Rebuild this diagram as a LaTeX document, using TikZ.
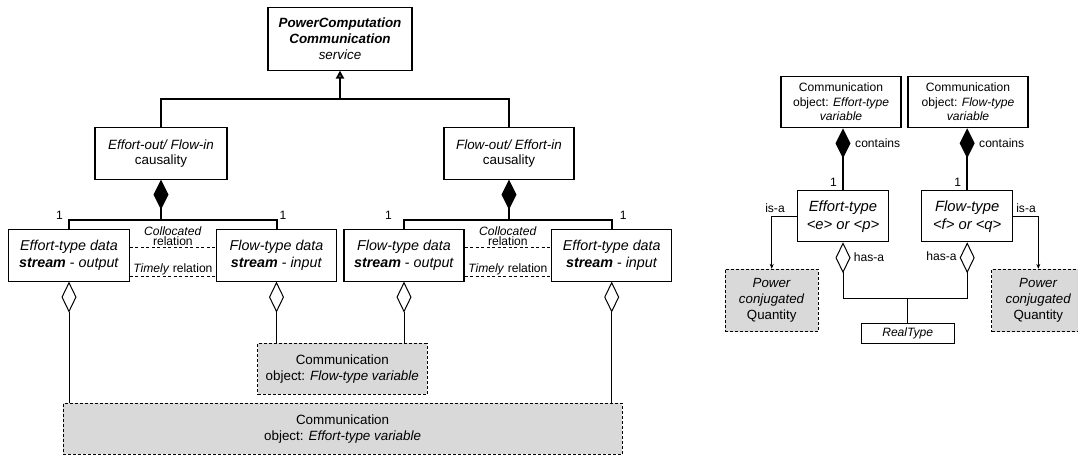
\documentclass[tikz,border=0pt]{standalone}
\usepackage{fontspec}
\setmainfont{Liberation Sans}
\usetikzlibrary{arrows.meta}

\definecolor{objgray}{HTML}{D9D9D9}
\newcommand{\fmain}{\fontsize{13.4}{15.6}\selectfont}
\newcommand{\fbig}{\fontsize{14.3}{17}\selectfont}
\newcommand{\fsm}{\fontsize{12.1}{14.5}\selectfont}
\newcommand{\frel}{\fontsize{12.1}{10.2}\selectfont}
\newcommand{\ftype}{\fontsize{14.8}{18}\selectfont}
\newcommand{\fpow}{\fontsize{13.3}{16}\selectfont}

\begin{document}
\begin{tikzpicture}[x=1pt,y=-1pt,
  box/.style={draw,line width=1.1pt,fill=white,align=center,inner sep=0pt,font=\fmain},
  objbox/.style={box,fill=objgray,line width=0.9pt,dash pattern=on 3pt off 2pt},
  tree/.style={line width=2pt},
  comp/.style={tree,{Diamond[length=30pt,width=15pt]}-},
  aggr/.style={line width=0.8pt,{Diamond[open,length=31pt,width=15pt,line width=1pt]}-},
  gen/.style={tree,-{Triangle[open,length=8pt,width=8pt]}},
  isa/.style={line width=0.8pt,-{Stealth[length=5pt,width=4pt]}},
  rel/.style={line width=0.8pt,dash pattern=on 3pt off 2.5pt},
  lbl/.style={inner sep=0pt,font=\fsm}]
\useasboundingbox (0,0) rectangle (1078,458);

% Left diagram: service and causalities
\node[box,minimum width=144pt,minimum height=62.7pt] (serv) at (340,38.7)
  {\textbf{\textit{PowerComputation}}\\\textbf{\textit{Communication}}\\\textit{service}};
\node[box,minimum width=132pt,minimum height=51.3pt] (causL) at (161,153.4)
  {\textit{Effort-out/ Flow-in}\\causality};
\node[box,minimum width=130pt,minimum height=51.3pt] (causR) at (509,153.4)
  {\textit{Flow-out/ Effort-in}\\causality};

% Data streams
\node[box,font=\fbig,minimum width=120.5pt,minimum height=51.7pt] (sEo) at (69,255.2)
  {\textit{Effort-type data}\\\textbf{\textit{stream}} - \textit{output}};
\node[box,font=\fbig,minimum width=120pt,minimum height=51.7pt] (sFi) at (276.5,255.2)
  {\textit{Flow-type data}\\\textbf{\textit{stream}} - \textit{input}};
\node[box,font=\fbig,minimum width=120pt,minimum height=51.7pt] (sFo) at (404,255.2)
  {\textit{Flow-type data}\\\textbf{\textit{stream}} - \textit{output}};
\node[box,font=\fbig,minimum width=120pt,minimum height=51.7pt] (sEi) at (611.7,255.2)
  {\textit{Effort-type data}\\\textbf{\textit{stream}} - \textit{input}};

% Communication objects
\node[objbox,minimum width=169.4pt,minimum height=50.7pt] (objF) at (342.3,368.8)
  {Communication\\object: \textit{Flow-type variable}};
\node[objbox,minimum width=559.3pt,minimum height=51pt] (objE) at (342.6,428.8)
  {Communication\\object: \textit{Effort-type variable}};

% Inheritance tree
\coordinate (jTop) at (340,99.3);
\coordinate (jL) at (161,220);
\coordinate (jR) at (509,220);
\draw[tree] (causL.north) |- (jTop) -| (causR.north);
\draw[gen] (jTop) -- (serv.south);

% Compositions
\draw[comp] (causL.south) -- (jL);
\draw[tree] (sEo.north) |- (jL) -| (sFi.north);
\draw[comp] (causR.south) -- (jR);
\draw[tree] (sFo.north) |- (jR) -| (sEi.north);
\node[lbl,anchor=south east,xshift=-6pt] (m1) at (sEo.north |- jL) {1};
\node[lbl,anchor=south west,xshift=3pt] (m2) at (sFi.north |- jL) {1};
\node[lbl,anchor=south east,xshift=-12pt] (m3) at (sFo.north |- jR) {1};
\node[lbl,anchor=south west,xshift=8pt] (m4) at (sEi.north |- jR) {1};

% Relations
\draw[rel] ([yshift=7.9pt]sEo.east) -- node[lbl,font=\frel,align=center,above=1.5pt,name=colL]
  {\textit{Collocated}\\relation} ([yshift=7.9pt]sFi.west);
\draw[rel] ([yshift=-20.8pt]sEo.east) -- node[lbl,above=1pt,name=timL]
  {\textit{Timely} relation} ([yshift=-20.8pt]sFi.west);
\draw[rel] ([yshift=7.9pt]sFo.east) -- node[lbl,font=\frel,align=center,above=1.5pt,name=colR]
  {\textit{Collocated}\\relation} ([yshift=7.9pt]sEi.west);
\draw[rel] ([yshift=-20.8pt]sFo.east) -- node[lbl,above=1pt,name=timR]
  {\textit{Timely} relation} ([yshift=-20.8pt]sEi.west);

% Aggregations
\draw[aggr] (sEo.south) -- (sEo.south |- objE.north);
\draw[aggr] (sFi.south) -- (sFi.south |- objF.north);
\draw[aggr] (sFo.south) -- (sFo.south |- objF.north);
\draw[aggr] (sEi.south) -- (sEi.south |- objE.north);

% Right diagram
\node[box,font=\fsm,minimum width=120pt,minimum height=51.7pt] (objEr) at (841,101.9)
  {Communication\\object: \textit{Effort-type}\\\textit{variable}};
\node[box,font=\fsm,minimum width=120pt,minimum height=51.7pt] (objFr) at (968,101.9)
  {Communication\\object: \textit{Flow-type}\\\textit{variable}};
\node[box,font=\ftype,minimum width=91pt,minimum height=51pt] (typE) at (843,216.2)
  {\textit{Effort-type}\\\textit{<e> or <p>}};
\node[box,font=\ftype,minimum width=91pt,minimum height=51pt] (typF) at (967.2,216.2)
  {\textit{Flow-type}\\\textit{<f> or <q>}};
\node[objbox,font=\fpow,minimum width=93.3pt,minimum height=62.4pt] (powL) at (771.7,300.5)
  {\textit{Power}\\\textit{conjugated}\\Quantity};
\node[objbox,font=\fpow,minimum width=93.3pt,minimum height=62.4pt] (powR) at (1038.3,300.5)
  {\textit{Power}\\\textit{conjugated}\\Quantity};
\node[box,font=\fsm,minimum width=93.3pt,minimum height=20pt] (real) at (907.7,333.3)
  {\textit{RealType}};
\coordinate (jHas) at (907.7,298.3);

\draw[comp] (typE.north |- objEr.south) -- (typE.north);
\draw[comp] (typF.north |- objFr.south) -- (typF.north);
\node[lbl,anchor=west] (conE) at (855,142.7) {contains};
\node[lbl,anchor=west] (conF) at (979,142.7) {contains};
\node[lbl,anchor=south east,xshift=-6pt,yshift=3pt] (mE) at (typE.north) {1};
\node[lbl,anchor=south east,xshift=-6pt,yshift=3pt] (mF) at (typF.north) {1};

\draw[isa] (typE.west) -| (powL.north);
\draw[isa] (typF.east) -| (powR.north);
\node[lbl] (isaE) at (775,208) {is-a};
\node[lbl] (isaF) at (1026,208) {is-a};

\draw[aggr] (typE.south) |- (jHas);
\draw[aggr] (typF.south) |- (jHas);
\draw[line width=0.8pt] (jHas) -- (real.north);
\node[lbl] (hasE) at (869,257) {has-a};
\node[lbl] (hasF) at (941.5,256.5) {has-a};
\end{tikzpicture}
\end{document}
